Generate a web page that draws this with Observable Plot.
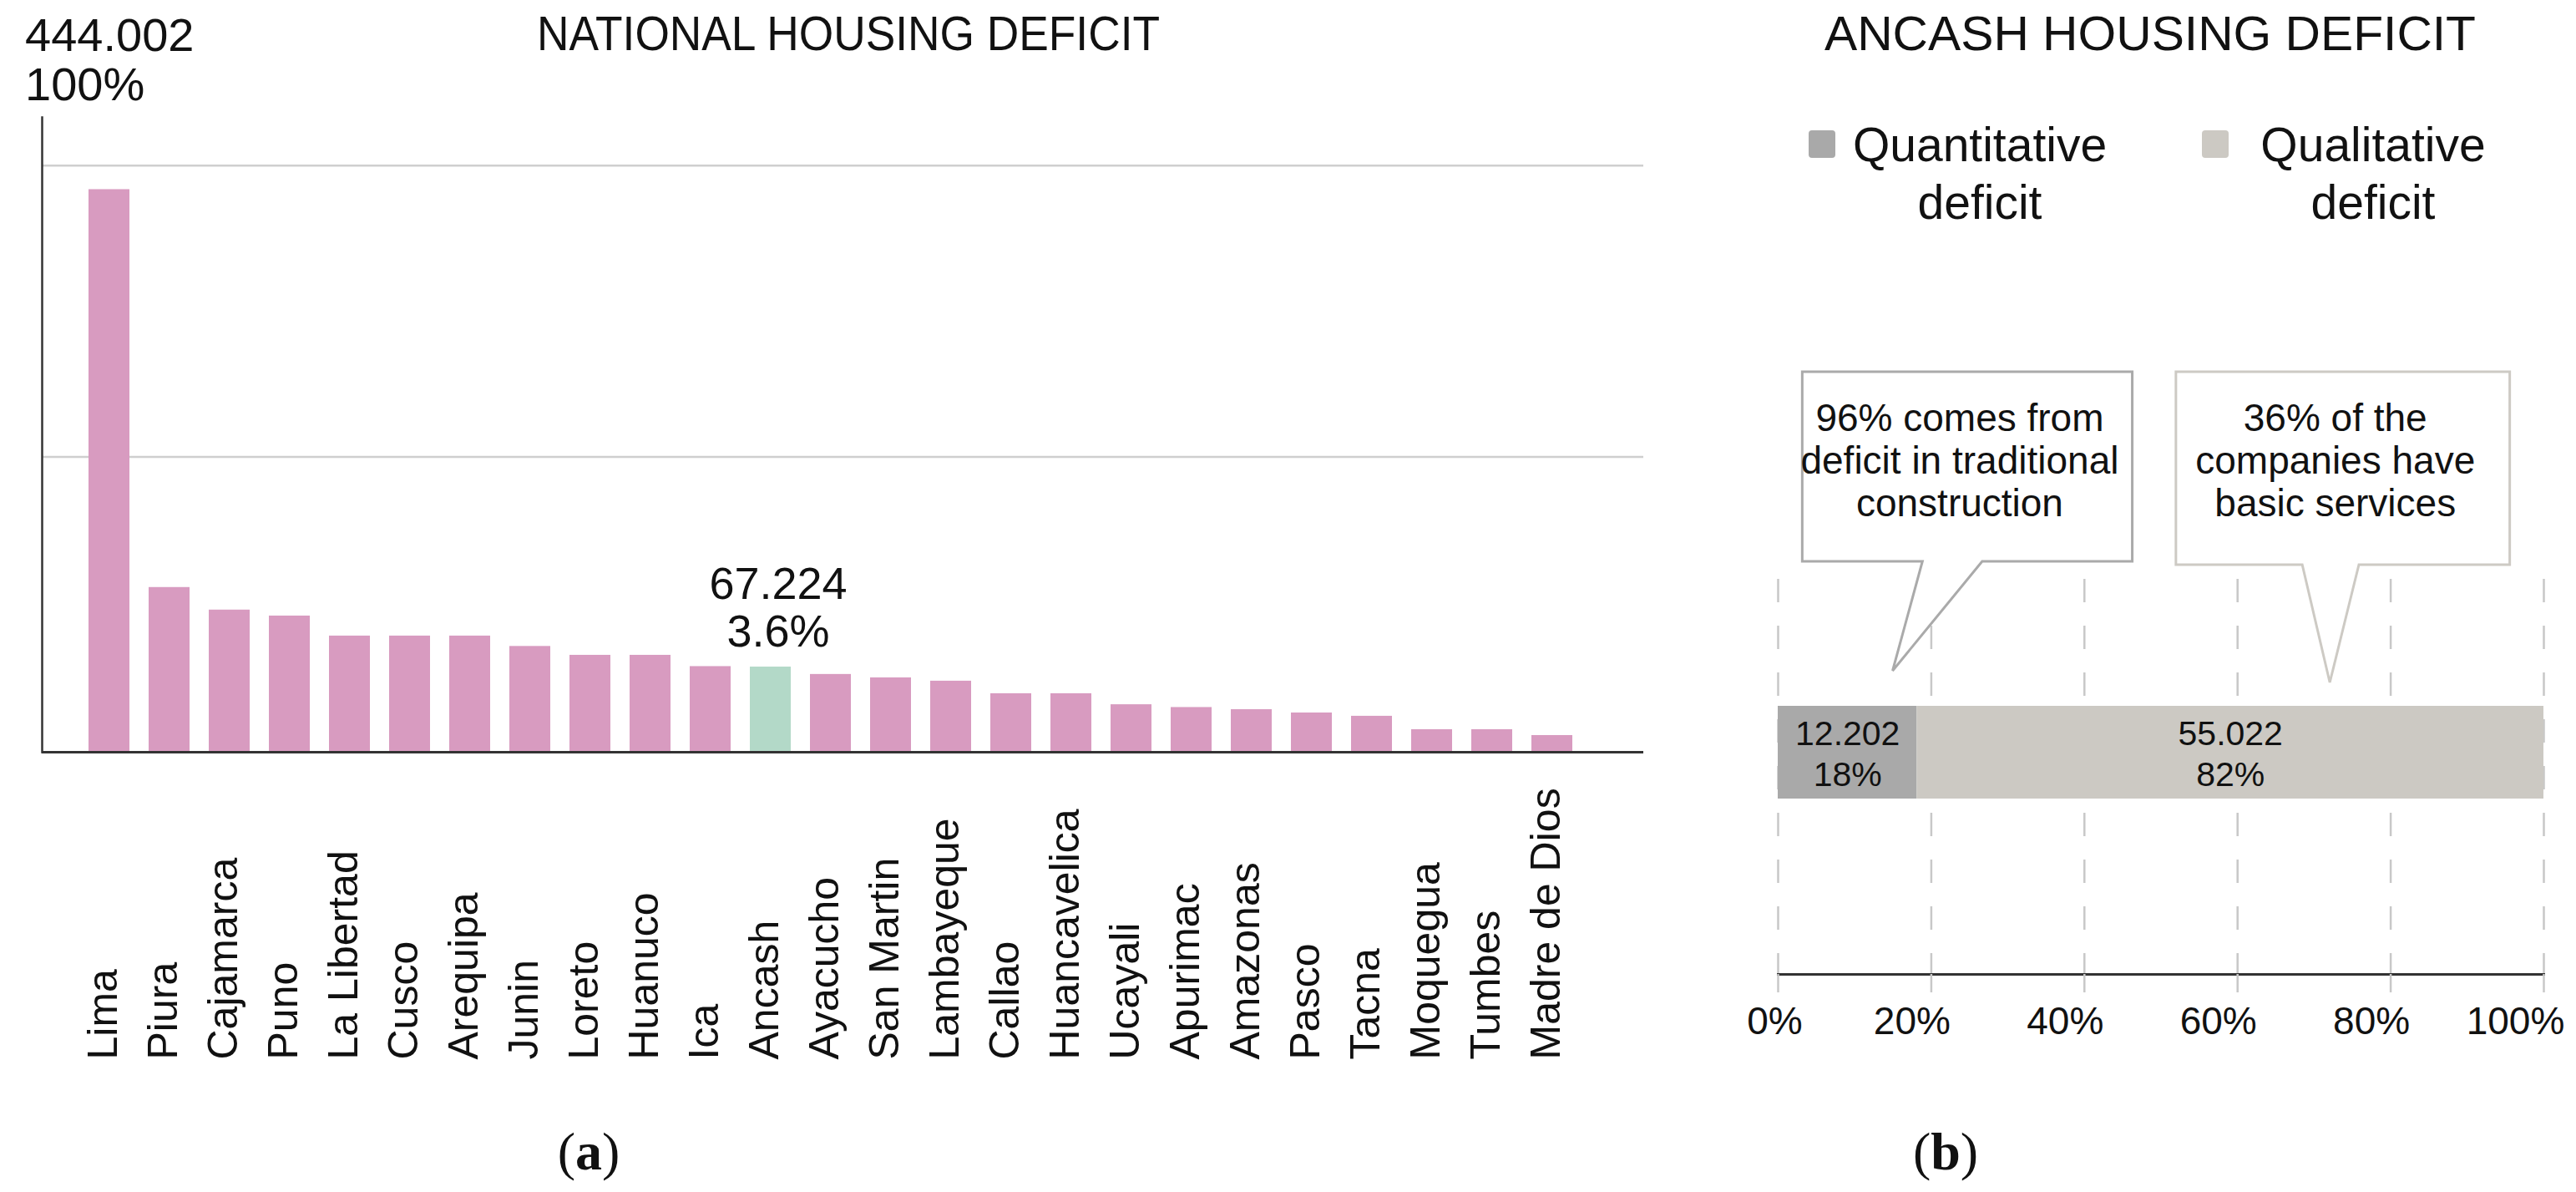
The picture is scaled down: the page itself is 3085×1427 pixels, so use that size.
<!DOCTYPE html>
<html><head><meta charset="utf-8">
<script src="https://cdn.jsdelivr.net/npm/d3@7"></script>
<script src="https://cdn.jsdelivr.net/npm/@observablehq/plot@0.6"></script>
<style>
html,body{margin:0;padding:0;background:#fff;}
#root{position:relative;width:3085px;height:1427px;overflow:hidden;font-family:"Liberation Sans",Arial,sans-serif;}
#root svg{position:absolute;}
</style></head><body><div id="root"></div>
<script>
// ---------- data ----------
const regions = ["Lima","Piura","Cajamarca","Puno","La Libertad","Cusco","Arequipa","Junin","Loreto","Huanuco","Ica","Ancash","Ayacucho","San Martin","Lambayeque","Callao","Huancavelica","Ucayali","Apurimac","Amazonas","Pasco","Tacna","Moquegua","Tumbes","Madre de Dios"];
const deficits = [444.002,130.0,112.2,107.5,91.7,91.7,91.7,83.5,76.5,76.5,67.6,67.224,61.4,58.7,56.1,46.2,46.2,37.5,35.3,33.6,31.0,28.4,17.8,17.8,13.2];
const highlighted = "Ancash";
const gridValues = [233,463];
const yMax = 501;
const nationalTitle = "NATIONAL HOUSING DEFICIT";
const limaLabel = ["444.002","100%"];
const ancashLabel = ["67.224","3.6%"];

const ancashTitle = "ANCASH HOUSING DEFICIT";
const ancashTypes = ["Quantitative deficit","Qualitative deficit"];
const legendLines = [["Quantitative","deficit"],["Qualitative","deficit"]];
const ancashValues = [12.202,55.022];
const ancashValueLabels = ["12.202","55.022"];
const ancashShareLabels = ["18%","82%"];
const percentTicks = [0,0.2,0.4,0.6,0.8,1];
const calloutTexts = [["96% comes from","deficit in traditional","construction"],["36% of the","companies have","basic services"]];
const captions = ["a","b"];

// ---------- styles ----------
const PINK="#d89bc0", MINT="#b3d9c8", DARK="#a9a9a9", LIGHT="#ccc9c3";
const FONT='"Liberation Sans",Arial,sans-serif';
const pct = d3.format(".0%");

const root = document.getElementById("root");

// ---------- left chart ----------
const national = regions.map((r,i)=>({region:r,value:deficits[i],kind:r===highlighted?"hl":"other"}));
const left = Plot.plot({
  width:2000,height:1427,marginTop:140,marginBottom:527,marginLeft:50,marginRight:32,
  style:{fontFamily:FONT,color:"#111",background:"transparent",overflow:"visible"},
  x:{type:"band",domain:regions,paddingInner:0.322,paddingOuter:0.798,align:0.4,axis:null},
  y:{domain:[0,yMax],axis:null},
  color:{domain:["other","hl"],range:[PINK,MINT]},
  marks:[
    Plot.ruleY(gridValues,{stroke:"#cfcfcf",strokeWidth:2.5}),
    Plot.barY(national,{x:"region",y:"value",fill:"kind"}),
    Plot.frame({anchor:"left",stroke:"#333",strokeWidth:2.5}),
    Plot.ruleY([0],{stroke:"#333",strokeWidth:3}),
    Plot.text(regions,{x:d=>d,frameAnchor:"bottom",rotate:-90,textAnchor:"start",dy:368,dx:9,fontSize:50,fill:"#111"}),
    Plot.text(national.filter(d=>d.region==="Lima"),{x:"region",y:"value",text:()=>limaLabel.join("\n"),textAnchor:"start",lineAnchor:"bottom",lineHeight:1.05,dy:-107,dx:-101,fontSize:56,fill:"#111"}),
    Plot.text(national.filter(d=>d.region===highlighted),{x:"region",y:"value",text:()=>ancashLabel.join("\n"),lineAnchor:"bottom",lineHeight:1.05,dy:-25,dx:9,fontSize:54,fill:"#111"})
  ]
});
left.style.left="0px";left.style.top="0px";
root.appendChild(left);

// ---------- right chart ----------
const ancash = ancashTypes.map((t,i)=>({type:t,value:ancashValues[i],group:"Ancash",label:ancashValueLabels[i]+"\n"+ancashShareLabels[i]}));
const right = Plot.plot({
  width:1085,height:1427,marginTop:693,marginBottom:261,marginLeft:129,marginRight:39,
  style:{fontFamily:FONT,color:"#111",background:"transparent",overflow:"visible"},
  x:{domain:[0,1],axis:null},
  y:{domain:["Ancash"],paddingInner:0,paddingOuter:1.63,align:0.42,axis:null},
  color:{domain:ancashTypes,range:[DARK,LIGHT]},
  marks:[
    Plot.ruleX(percentTicks,{stroke:"#c8c8c8",strokeWidth:2.5,strokeDasharray:"28,28"}),
    Plot.barX(ancash,Plot.stackX({x:"value",y:"group",fill:"type",offset:"normalize"})),
    Plot.text(ancash,Plot.stackX({x:"value",y:"group",text:"label",offset:"normalize",fontSize:41,lineHeight:1.2,fill:"#111"})),
    Plot.frame({anchor:"bottom",stroke:"#333",strokeWidth:3}),
    Plot.axisX({ticks:percentTicks,tickSize:22,tickFormat:()=>"",label:null,stroke:"#c8c8c8",strokeWidth:2.5}),
    Plot.axisX({ticks:percentTicks.slice(0,1),tickSize:0,tickPadding:39,tickFormat:pct,label:null,fontSize:46,dx:-4,fill:"#111"}),
    Plot.axisX({ticks:percentTicks.slice(1,5),tickSize:0,tickPadding:39,tickFormat:pct,label:null,fontSize:46,dx:-23,fill:"#111"}),
    Plot.axisX({ticks:percentTicks.slice(5),tickSize:0,tickPadding:39,tickFormat:pct,label:null,fontSize:46,dx:-34,fill:"#111"})
  ]
});
right.style.left="2000px";right.style.top="0px";
root.appendChild(right);

// ---------- overlay: titles, legend, callouts, captions ----------
const svg = d3.select(root).append("svg").attr("width",3085).attr("height",1427)
  .style("left","0px").style("top","0px").style("font-family",FONT);

svg.append("text").attr("x",1016).attr("y",60).attr("text-anchor","middle").attr("font-size",58)
  .attr("textLength",746).attr("lengthAdjust","spacingAndGlyphs").attr("fill","#111").text(nationalTitle);
svg.append("text").attr("x",2575).attr("y",60).attr("text-anchor","middle").attr("font-size",58)
  .attr("textLength",780).attr("lengthAdjust","spacingAndGlyphs").attr("fill","#111").text(ancashTitle);

// legend
const legendX=[2166,2637];
ancashTypes.forEach((t,i)=>{
  const col = right.scale("color").apply(t);
  svg.append("rect").attr("x",legendX[i]).attr("y",156).attr("width",32).attr("height",33).attr("rx",4).attr("fill",col);
  const cx = legendX[i] + 205;
  legendLines[i].forEach((ln,j)=>{
    svg.append("text").attr("x",cx).attr("y",193+j*69).attr("text-anchor","middle").attr("font-size",57).attr("fill","#111").text(ln);
  });
});

// callouts
const xs = right.scale("x"), ys = right.scale("y");
const X = v => 2000 + xs.apply(v);
const barTop = ys.apply("Ancash");
const boxes = [
  {x1:0.032,x2:0.463,b1:0.189,b2:0.267,tip:0.150,top:barTop-400,bot:barTop-173,tipY:barTop-42,stroke:"#aaaaaa"},
  {x1:0.520,x2:0.956,b1:0.685,b2:0.759,tip:0.721,top:barTop-400,bot:barTop-169,tipY:barTop-28,stroke:"#cdcac4"}
];
boxes.forEach((b,i)=>{
  const p = d3.path();
  p.moveTo(X(b.x1),b.top);p.lineTo(X(b.x2),b.top);p.lineTo(X(b.x2),b.bot);p.lineTo(X(b.b2),b.bot);
  p.lineTo(X(b.tip),b.tipY);p.lineTo(X(b.b1),b.bot);p.lineTo(X(b.x1),b.bot);p.closePath();
  svg.append("path").attr("d",p.toString()).attr("fill","#fff").attr("stroke",b.stroke).attr("stroke-width",3);
  const cx=(X(b.x1)+X(b.x2))/2 - 9;
  calloutTexts[i].forEach((ln,j)=>{
    svg.append("text").attr("x",cx).attr("y",b.top+71+j*51).attr("text-anchor","middle").attr("font-size",46).attr("fill","#111").text(ln);
  });
});

// captions
[705,2330].forEach((cx,i)=>{
  const t = svg.append("text").attr("x",cx).attr("y",1400).attr("text-anchor","middle").attr("font-size",64)
    .attr("font-family",'"Liberation Serif","Times New Roman",serif').attr("fill","#111");
  t.append("tspan").text("(");
  t.append("tspan").attr("font-weight","bold").text(captions[i]);
  t.append("tspan").text(")");
});
</script></body></html>
